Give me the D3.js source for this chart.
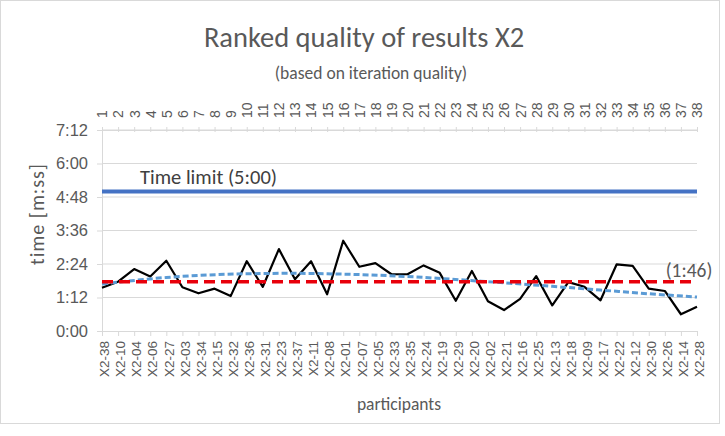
<!DOCTYPE html>
<html>
<head>
<meta charset="utf-8">
<script src="https://cdn.jsdelivr.net/npm/d3@7/dist/d3.min.js"></script>
<style>
  html, body { margin:0; padding:0; background:#fff; }
  svg { display:block; font-family: Carlito, Calibri, Lato, "Open Sans", sans-serif; }
</style>
</head>
<body>
<div id="chart"></div>
<script>
/* Ranked quality of results X2 - time per participant, sorted by iteration quality */
const participants = ["X2-38","X2-10","X2-04","X2-06","X2-27","X2-03","X2-34","X2-15","X2-32","X2-36",
  "X2-31","X2-23","X2-37","X2-11","X2-08","X2-01","X2-07","X2-05","X2-33","X2-35",
  "X2-24","X2-19","X2-29","X2-20","X2-02","X2-21","X2-16","X2-25","X2-13","X2-18",
  "X2-09","X2-17","X2-22","X2-12","X2-30","X2-26","X2-14","X2-28"];
const ranks = [1,2,3,4,5,6,7,8,9,10,11,12,13,14,15,16,17,18,19,20,
  21,22,23,24,25,26,27,28,29,30,31,32,33,34,35,36,37,38];
// time in seconds
const timesSec = [93,106,133,117,151,94,81,91,75,150,
  95,176,111,150,79,194,138,146,122,122,
  141,125,65,129,64,45,69,118,55,105,
  95,66,143,140,91,86,36,52];
const meanSec = 106;        // (1:46)
const timeLimitSec = 300;   // 5:00
// trend line, sampled from the chart at a few ranks
const trendRanks = [1,5,10,13,15,20,25,29,32,35,38];
const trendSec = [101,115,123,124,123,117,106,96,88,80,73];
const yTicks = [0,72,144,216,288,360,432];

const W = 725, H = 436;
const plot = { left:102, right:697, top:130, bottom:331 };
const grey = '#595959';

const fmt = s => Math.floor(s/60) + ':' + String(s % 60).padStart(2,'0');

const svg = d3.select('#chart').append('svg').attr('width', W).attr('height', H);

svg.append('rect').attr('x',0.5).attr('y',0.5).attr('width',719).attr('height',423)
  .attr('fill','#fff').attr('stroke','#d9d9d9');

const x = d3.scalePoint().domain(ranks).range([plot.left, plot.right]);
const y = d3.scaleLinear().domain([0,432]).range([plot.bottom, plot.top]);

// titles
svg.append('text').attr('x',364).attr('y',47).attr('text-anchor','middle')
  .style('font-size','28.5px').style('fill',grey).text('Ranked quality of results X2');
svg.append('text').attr('x',371).attr('y',79).attr('text-anchor','middle')
  .style('font-size','17.5px').style('fill',grey).text('(based on iteration quality)');

// gridlines
svg.append('g').selectAll('line').data(yTicks.slice(1)).join('line')
  .attr('x1',plot.left).attr('x2',plot.right)
  .attr('y1',d=>y(d)).attr('y2',d=>y(d))
  .attr('stroke','#d9d9d9').attr('stroke-width',1);

// left axis
const yAxis = d3.axisLeft(y).tickValues(yTicks).tickFormat(fmt).tickSize(5).tickPadding(9);
const gy = svg.append('g').attr('transform','translate(' + plot.left + ',0)').call(yAxis);
gy.select('.domain').attr('stroke','#d9d9d9');
gy.selectAll('.tick line').attr('stroke','#d9d9d9');
gy.selectAll('.tick text').style('font-size','16.5px').style('fill',grey).style('font-family','inherit');

// bottom axis
const xAxis = d3.axisBottom(x).tickSize(5).tickFormat(d => participants[d-1]);
const gx = svg.append('g').attr('transform','translate(0,' + plot.bottom + ')').call(xAxis);
gx.select('.domain').attr('stroke','#d9d9d9');
gx.selectAll('.tick line').attr('stroke','#d9d9d9');
gx.selectAll('.tick text')
  .attr('transform','rotate(-90)').attr('x',-10).attr('y',2).attr('dy','0.35em')
  .attr('text-anchor','end')
  .style('font-size','13.5px').style('fill',grey).style('font-family','inherit');

// top axis (ranks)
const xTop = d3.axisTop(x).tickSize(3).tickFormat(d => d);
const gt = svg.append('g').attr('transform','translate(0,' + plot.top + ')').call(xTop);
gt.select('.domain').attr('stroke','#d9d9d9');
gt.selectAll('.tick line').attr('stroke','#d9d9d9').attr('y2',2).attr('y1',-3);
gt.selectAll('.tick text')
  .attr('transform','rotate(-90)').attr('x',12).attr('y',0).attr('dy','0.35em')
  .attr('text-anchor','start')
  .style('font-size','14px').style('fill',grey).style('font-family','inherit');

// axis titles
svg.append('text').attr('transform','translate(44,214) rotate(-90)').attr('text-anchor','middle')
  .style('font-size','20px').style('letter-spacing','1px').style('fill',grey).text('time [m:ss]');
svg.append('text').attr('x',399).attr('y',410).attr('text-anchor','middle')
  .style('font-size','17.5px').style('fill',grey).text('participants');

// time limit
svg.append('line').attr('x1',plot.left).attr('x2',plot.right)
  .attr('y1',y(timeLimitSec)).attr('y2',y(timeLimitSec))
  .attr('stroke','#4472c4').attr('stroke-width',4);
svg.append('text').attr('x',140).attr('y',y(timeLimitSec)-7)
  .style('font-size','20.5px').style('fill','#404040')
  .text('Time limit (' + fmt(timeLimitSec) + ')');

// data line
svg.append('path').datum(timesSec)
  .attr('d', d3.line().x((d,i)=>x(ranks[i])).y(d=>y(d)))
  .attr('fill','none').attr('stroke','#000').attr('stroke-width',2.2).attr('stroke-linejoin','round');

// trend
svg.append('path').datum(trendSec)
  .attr('d', d3.line().curve(d3.curveMonotoneX).x((d,i)=>x(trendRanks[i])).y(d=>y(d)))
  .attr('fill','none').attr('stroke','#5b9bd5').attr('stroke-width',3).attr('stroke-dasharray','6,3');

// mean
svg.append('line').attr('x1',plot.left).attr('x2',plot.right)
  .attr('y1',y(meanSec)).attr('y2',y(meanSec))
  .attr('stroke','#e8000b').attr('stroke-width',3.5).attr('stroke-dasharray','11,6');
svg.append('text').attr('x',689).attr('y',y(meanSec)-5).attr('text-anchor','middle')
  .style('font-size','19.5px').style('fill',grey).text('(' + fmt(meanSec) + ')');
</script>
</body>
</html>
